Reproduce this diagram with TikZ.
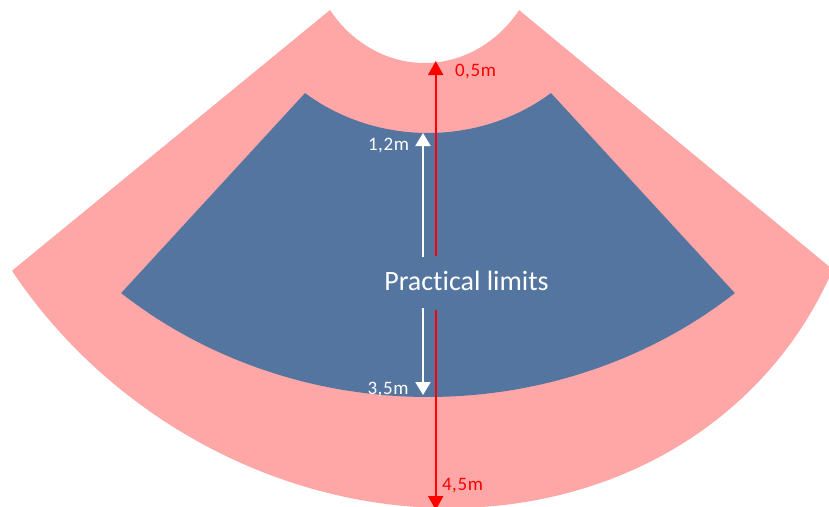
\documentclass[tikz,border=0pt]{standalone}
\usepackage{fontspec}
\setmainfont{Carlito}[Ligatures=NoCommon]
\newfontfamily\lblfont{Carlito}[Ligatures=NoCommon,LetterSpace=3]
\usetikzlibrary{arrows.meta}
\definecolor{pinkband}{RGB}{255,166,167}
\definecolor{blueband}{RGB}{84,117,160}
\definecolor{arrred}{RGB}{255,0,0}
\begin{document}
\begin{tikzpicture}[x=1pt,y=-1pt,
  lbl/.style={inner sep=0pt, anchor=base, font=\lblfont\fontsize{19}{21}\selectfont},
  biglbl/.style={inner sep=0pt, anchor=base, font=\fontsize{28}{32}\selectfont},
  redarr/.style={draw=arrred, line width=2pt, -{Triangle[width=15pt,length=14pt]}},
  whitearr/.style={draw=white, line width=2pt, -{Triangle[width=15pt,length=13pt]}}]
\useasboundingbox (0,0) rectangle (829,506);
\clip (0,0) rectangle (829,506);
% outer pink band (0.5m - 4.5m): outer edge is a slightly skewed ellipse
\fill[pinkband] plot[domain=-4.13:4.08, samples=300]
   ({425+100*\x},{300+97.5*(-(-0.225*\x+5.025)+sqrt((-0.225*\x+5.025)^2-4*1.0408*(\x*\x-0.01*\x-15.4056)))/(2*1.0408)})
  -- (519,10)
  -- plot[domain=36.4:143.6, samples=60] ({424.6+117.5*cos(\x)},{-67.3+130.3*sin(\x)})
  -- cycle;
% inner blue band (1.2m - 3.5m)
\fill[blueband] plot[domain=49.7:130.3, samples=90] ({428-474.4*cos(\x)},{-40.7+437.7*sin(\x)})
  -- plot[domain=50.35:129.65, samples=60] ({428+192.7*cos(\x)},{-40.7+173.7*sin(\x)})
  -- cycle;
% arrow anchors
\coordinate (r1) at (435.7,61);
\coordinate (r2) at (435.7,256);
\coordinate (r3) at (435.7,310);
\coordinate (r4) at (435.7,510);
\coordinate (w1) at (423,133);
\coordinate (w2) at (423,257);
\coordinate (w3) at (423,308);
\coordinate (w4) at (423,395);
\draw[redarr] (r2) -- (r1);
\draw[redarr] (r3) -- (r4);
\draw[whitearr] (w2) -- (w1);
\draw[whitearr] (w3) -- (w4);
% labels
\node[lbl, text=arrred] (l05) at (475.5,76) {0,5m};
\node[lbl, text=white] (l12) at (388.5,150) {1,2m};
\node[biglbl, text=white] (pl) at (466.5,290) {Practical limits};
\node[lbl, text=white] (l35) at (388,394) {3,5m};
\node[lbl, text=arrred] (l45) at (462.5,490) {4,5m};
\end{tikzpicture}
\end{document}
